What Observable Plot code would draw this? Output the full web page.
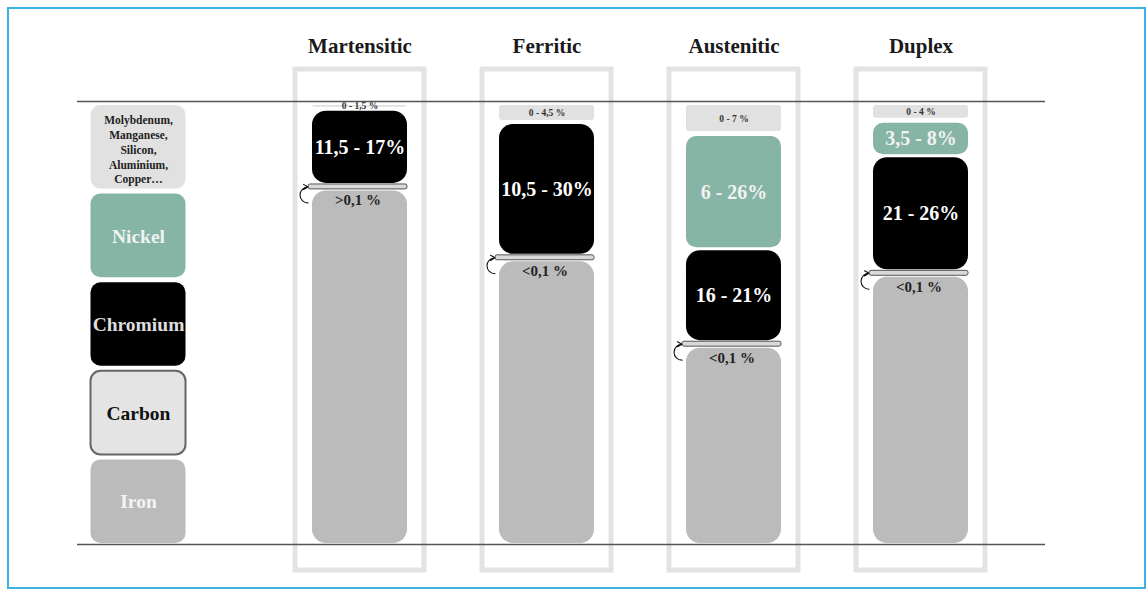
<!DOCTYPE html>
<html>
<head>
<meta charset="utf-8">
<script src="https://cdn.jsdelivr.net/npm/d3@7"></script>
<script src="https://cdn.jsdelivr.net/npm/@observablehq/plot@0.6"></script>
<style>
  html, body { margin: 0; padding: 0; background: #fff; }
  #wrap { position: relative; width: 1146px; height: 589px; overflow: hidden; }
  #border { position: absolute; left: 7px; top: 7px; width: 1139px; height: 582px;
            box-sizing: border-box; border: 2px solid #3cb2e2; pointer-events: none; }
  #chart svg { display: block; }
</style>
</head>
<body>
<div id="wrap">
  <div id="chart"></div>
  <div id="border"></div>
</div>
<script>
// Stainless steel families and their composition ranges (% by mass)
const types = ["Martensitic", "Ferritic", "Austenitic", "Duplex"];
const otherMin = [0, 0, 0, 0];
const otherMax = [1.5, 4.5, 7, 4];
const nickelMin = [null, null, 6, 3.5];
const nickelMax = [null, null, 26, 8];
const chromiumMin = [11.5, 10.5, 16, 21];
const chromiumMax = [17, 30, 21, 26];
const carbonMax = [0.1, 0.1, 0.1, 0.1];
const carbonLabels = [">0,1 %", "<0,1 %", "<0,1 %", "<0,1 %"];

// Key column
const elements = ["Other", "Nickel", "Chromium", "Carbon", "Iron"];
const keyLabels = ["Molybdenum,\nManganese,\nSilicon,\nAluminium,\nCopper…", "Nickel", "Chromium", "Carbon", "Iron"];

const fmt = v => String(v).replace(".", ",");

// Stack each column from the top (100 %) down; iron fills the remainder
const segments = [];
types.forEach((type, i) => {
  let top = 100;
  const parts = [
    ["Other", otherMin[i], otherMax[i]],
    ["Nickel", nickelMin[i], nickelMax[i]],
    ["Chromium", chromiumMin[i], chromiumMax[i]],
    ["Carbon", 0, carbonMax[i]]
  ];
  for (const [element, lo, hi] of parts) {
    if (hi == null) continue;
    segments.push({type, element, lo, hi, y2: top, y1: top - hi, label: element === "Carbon" ? carbonLabels[i] : null});
    top -= hi;
  }
  segments.push({type, element: "Iron", y2: top, y1: 0});
});
const seg = el => segments.filter(d => d.element === el);

const keyRows = keyLabels.map((label, i) => ({
  key: "", element: elements[i], label,
  y2: 100 - 20 * i, y1: 100 - 20 * (i + 1)
}));

const fills = {Other: "#e1e1e1", Nickel: "#86b4a5", Chromium: "#000000", Carbon: "#e4e4e4", Iron: "#bbbbbb"};
const keyText = {Other: "#222", Nickel: "#eef3f1", Chromium: "#dedede", Carbon: "#111", Iron: "#f3f3f3"};
const keyShift = -34.5;
const serif = "'Liberation Serif', 'DejaVu Serif', serif";
const block = {insetLeft: 46, insetRight: 46};

const chart = Plot.plot({
  width: 1146,
  height: 589,
  marginLeft: 77,
  marginRight: 101,
  marginTop: 101,
  marginBottom: 45,
  style: {fontFamily: serif, background: "transparent"},
  x: {domain: ["", ...types], range: [78.5, 1013.5], padding: 0, axis: null},
  y: {domain: [0, 100], range: [544, 101], axis: null},
  marks: [
    // outline frame around each family
    Plot.barY(types, {x: d => d, y1: 0, y2: 100, fill: "none", stroke: "#e3e3e3", strokeWidth: 5,
      insetLeft: 29, insetRight: 29, insetTop: -32, insetBottom: -26}),

    // key column
    Plot.barY(keyRows, {x: "key", y1: "y1", y2: "y2", dx: keyShift, ...block, insetTop: 4, insetBottom: 1, rx: 10,
      fill: d => fills[d.element],
      stroke: d => d.element === "Carbon" ? "#666" : "none", strokeWidth: 2}),
    Plot.text(keyRows.slice(0, 1), {x: "key", y: d => (d.y1 + d.y2) / 2, dx: keyShift, dy: 3, text: "label",
      fontSize: 11.5, fontWeight: "bold", lineHeight: 1.3, fill: "#222"}),
    Plot.text(keyRows.slice(1), {x: "key", y: d => (d.y1 + d.y2) / 2, dx: keyShift, dy: 2, text: "label",
      fontSize: 19.5, fontWeight: "bold", fill: d => keyText[d.element]}),

    // composition blocks
    Plot.barY(seg("Iron"), {x: "type", y1: "y1", y2: "y2", ...block, insetTop: 7, insetBottom: 1, rx: 14, fill: fills.Iron}),
    Plot.barY(seg("Other"), {x: "type", y1: "y1", y2: "y2", ...block, insetTop: 4, insetBottom: 1, rx: 3, fill: fills.Other}),
    Plot.barY(seg("Nickel"), {x: "type", y1: "y1", y2: "y2", ...block, insetTop: 4, insetBottom: 0, rx: 10, fill: fills.Nickel}),
    Plot.barY(seg("Chromium"), {x: "type", y1: "y1", y2: "y2", ...block, insetTop: 3, insetBottom: 0, rx: 14, fill: fills.Chromium}),
    Plot.barY(seg("Carbon"), {x: "type", y1: "y1", y2: "y2", insetLeft: 42, insetRight: 46, insetTop: 1, insetBottom: -5.5,
      rx: 2, fill: "#d9d9d9", stroke: "#555", strokeWidth: 1}),

    // hook arrow pointing at the thin carbon strip
    Plot.arrow(seg("Carbon"), {x: "type", y1: d => d.y2 - 3.6, y2: "y2", dx: -52, dy: 3.5, bend: 90,
      headLength: 7, stroke: "#111", strokeWidth: 1.1}),

    // range labels
    Plot.text(seg("Other"), {x: "type", y: d => (d.y1 + d.y2) / 2, dy: 1.5, text: d => `${fmt(d.lo)} - ${fmt(d.hi)} %`,
      fontSize: 9.5, fontWeight: "bold", fill: "#333"}),
    Plot.text(seg("Nickel"), {x: "type", y: d => (d.y1 + d.y2) / 2, dy: 2, text: d => `${fmt(d.lo)} - ${fmt(d.hi)}%`,
      fontSize: 20, fontWeight: "bold", fill: "#f2f2f2"}),
    Plot.text(seg("Chromium"), {x: "type", y: d => (d.y1 + d.y2) / 2, dy: 1.5, text: d => `${fmt(d.lo)} - ${fmt(d.hi)}%`,
      fontSize: 20, fontWeight: "bold", fill: "#ffffff"}),
    Plot.text(seg("Carbon"), {x: "type", y: "y2", dy: 17, dx: -2, text: "label",
      fontSize: 15, fontWeight: "bold", fill: "#222"}),

    // family titles
    Plot.text(types, {x: d => d, y: 100, dy: -55, text: d => d, fontSize: 21, fontWeight: "bold", fill: "#1a1a1a"}),

    // top and bottom reference lines
    Plot.ruleY([0, 100], {stroke: "#555", strokeWidth: 1.6})
  ]
});
document.getElementById("chart").appendChild(chart);
</script>
</body>
</html>
